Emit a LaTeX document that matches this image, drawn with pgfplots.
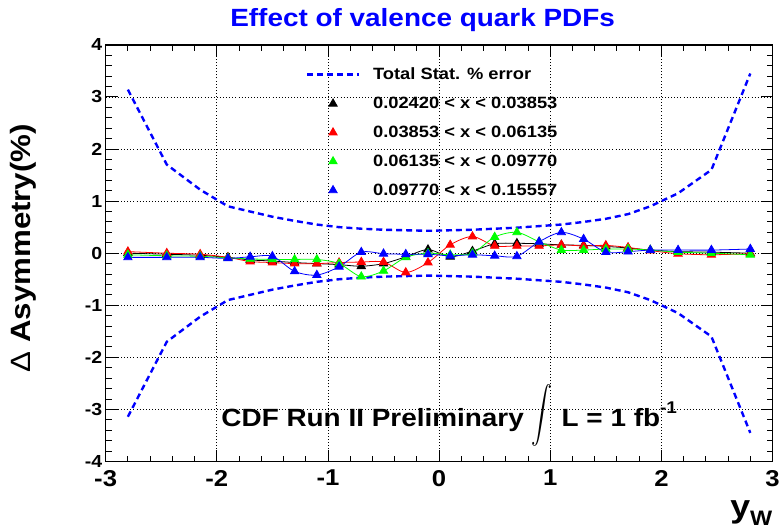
\documentclass[border=0pt]{standalone}
\usepackage{fontspec}
\setmainfont{Liberation Sans}[FakeStretch=1.12]
\usepackage{graphicx}
\usepackage{pgfplots}
\usepackage{pgfplotstable}
\pgfplotsset{compat=1.18}
\pgfplotsset{
  trilegend/.style={legend image code/.code={\draw[##1, sharp plot] plot coordinates {(26pt,0pt)};}},
  linelegend/.style={legend image code/.code={\draw[##1] (0pt,0pt) -- (52pt,0pt);}},
}

\pgfplotstableread{
x black red green blue up lo
-2.8 0.00 0.03 -0.03 -0.08 3.14 -3.14
-2.45 -0.02 0.00 -0.05 -0.08 1.70 -1.70
-2.15 -0.04 -0.02 -0.06 -0.08 1.22 -1.22
-1.9 -0.08 -0.08 -0.09 -0.10 0.90 -0.90
-1.7 -0.13 -0.16 -0.11 -0.07 0.80 -0.80
-1.5 -0.15 -0.18 -0.12 -0.06 0.70 -0.70
-1.3 -0.18 -0.20 -0.12 -0.35 0.62 -0.62
-1.1 -0.20 -0.20 -0.12 -0.42 0.55 -0.55
-0.9 -0.22 -0.18 -0.20 -0.26 0.50 -0.50
-0.7 -0.25 -0.17 -0.45 0.02 0.47 -0.47
-0.5 -0.20 -0.17 -0.34 -0.01 0.45 -0.45
-0.3 -0.07 -0.37 -0.08 -0.02 0.44 -0.44
-0.1 0.07 -0.18 0.00 -0.02 0.43 -0.43
0.1 -0.07 0.16 -0.03 -0.05 0.44 -0.44
0.3 0.04 0.32 0.00 -0.03 0.45 -0.45
0.5 0.18 0.14 0.31 -0.05 0.47 -0.47
0.7 0.19 0.14 0.40 -0.06 0.49 -0.49
0.9 0.18 0.14 0.22 0.22 0.52 -0.52
1.1 0.16 0.16 0.06 0.40 0.55 -0.55
1.3 0.15 0.14 0.06 0.27 0.60 -0.60
1.5 0.13 0.15 0.08 0.02 0.66 -0.66
1.7 0.10 0.11 0.08 0.03 0.75 -0.75
1.9 0.06 0.05 0.06 0.06 0.90 -0.90
2.15 0.03 -0.01 0.02 0.06 1.15 -1.15
2.45 0.02 -0.03 0.00 0.06 1.60 -1.60
2.8 0.00 -0.01 -0.03 0.08 3.45 -3.45
}\data

\begin{document}
\begin{tikzpicture}
\begin{axis}[
  scale only axis, width=669pt, height=418pt,
  xmin=-3, xmax=3, ymin=-4, ymax=4,
  xtick={-3,-2,-1,0,1,2,3}, xticklabels={-3,-2,-1,0,1,2,3},
  ytick={-4,-3,-2,-1,0,1,2,3,4}, yticklabels={-4,-3,-2,-1,0,1,2,3,4},
  minor tick num=4,
  tick align=inside,
  major tick length=12pt, minor tick length=6pt,
  every tick/.style={black, line width=0.9pt},
  axis line style={line width=1.6pt},
  grid=major,
  major grid style={black, line width=0.8pt, dash pattern=on 0.9pt off 2.2pt},
  xticklabel style={font=\fontsize{23}{26}\selectfont\bfseries, yshift=-5pt},
  yticklabel style={font=\fontsize{17.5}{20}\selectfont\bfseries},
  legend style={at={(axis cs:-1.2,3.56)}, anchor=north west, draw=none, fill=none,
    inner sep=0pt, row sep=16pt, column sep=13pt,
    font=\fontsize{16.4}{18}\selectfont\bfseries, nodes={inner sep=0pt}},
  legend cell align=left,
]
\addplot[blue, line width=2.4pt, dash pattern=on 6pt off 4pt, sharp plot, linelegend]
  table[x=x, y=up]{\data};
\addlegendentry{Total Stat. \% error}
\addplot[blue, line width=2.4pt, dash pattern=on 6pt off 4pt, sharp plot, forget plot]
  table[x=x, y=lo]{\data};
\addplot[black, line width=0.8pt, smooth, mark=triangle*, mark size=4.8pt, mark options={solid}, trilegend]
  table[x=x, y=black]{\data};
\addlegendentry{0.02420 < x < 0.03853}
\addplot[red, line width=0.8pt, smooth, mark=triangle*, mark size=4.8pt, mark options={solid}, trilegend]
  table[x=x, y=red]{\data};
\addlegendentry{0.03853 < x < 0.06135}
\addplot[green, line width=0.8pt, smooth, mark=triangle*, mark size=4.8pt, mark options={solid}, trilegend]
  table[x=x, y=green]{\data};
\addlegendentry{0.06135 < x < 0.09770}
\addplot[blue, line width=0.8pt, smooth, mark=triangle*, mark size=4.8pt, mark options={solid}, trilegend]
  table[x=x, y=blue]{\data};
\addlegendentry{0.09770 < x < 0.15557}
\node[anchor=base west, inner sep=0pt, font=\fontsize{25}{28}\selectfont\bfseries]
  at (axis cs:-1.96,-3.33)
  {CDF Run II Preliminary\hspace{8pt}\raisebox{-20pt}{\resizebox*{!}{62pt}{\raisebox{\depth}{\scalebox{0.75}[1]{$\displaystyle\int$}}}}\hspace{9pt}L = 1 fb\raisebox{13pt}{\fontsize{17}{18}\selectfont -1}};
\end{axis}
\node[anchor=base, inner sep=0pt, text=blue, font=\fontsize{25}{28}\selectfont\bfseries]
  at ([xshift=318pt, yshift=18pt]current axis.north west) {Effect of valence quark PDFs};
\node[rotate=90, anchor=center, inner sep=0pt, font=\fontsize{28}{30}\selectfont\bfseries]
  at ([xshift=-83pt, yshift=214pt]current axis.south west) {{\mdseries Δ} Asymmetry(\%)};
\node[anchor=base east, inner sep=0pt, font=\fontsize{32}{34}\selectfont\bfseries]
  at ([yshift=-56pt]current axis.south east) {y\raisebox{-8pt}{\fontsize{21}{22}\selectfont W}};
\path[use as bounding box] ([xshift=-106pt, yshift=-68pt]current axis.south west)
  rectangle ([xshift=8pt, yshift=45pt]current axis.north east);
\end{tikzpicture}
\end{document}
